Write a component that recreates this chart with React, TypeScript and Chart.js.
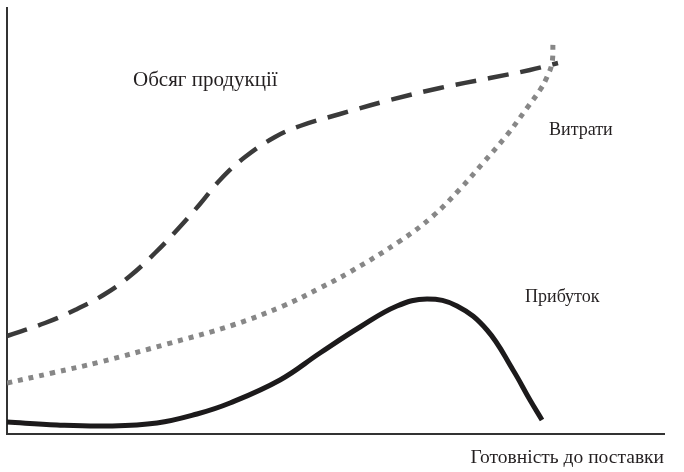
import React, { useEffect, useRef } from "react";
import { Chart, registerables } from "chart.js";

Chart.register(...registerables);

// Обсяг продукції (dashed)
const outputX = [0, 38, 68, 98, 123, 148, 170, 193, 213, 238, 268, 293, 333, 383, 433, 483, 523, 551];
const outputY = [98, 111, 124, 140, 158, 181, 204, 230, 254, 277, 297, 308, 320, 334, 346, 356, 364, 371];

// Витрати (dotted)
const costX = [0, 45, 93, 160, 226, 276, 313, 343, 393, 426, 453, 476, 500, 520, 533, 540, 545, 546];
const costY = [51, 61, 72, 90, 109, 128, 146, 162, 193, 218, 245, 271, 299, 326, 344, 357, 371, 392];

// Прибуток (solid)
const profitX = [0, 50, 100, 150, 190, 223, 273, 313, 353, 390, 420, 450, 480, 506, 523, 535];
const profitY = [12, 9, 8, 11, 20, 31, 54, 81, 107, 128, 135, 128, 104, 64, 34, 14];

// Curve labels, anchored in data units
const labelTexts = ["Обсяг продукції", "Витрати", "Прибуток"];
const labelX = [126, 542, 518];
const labelY = [354, 304, 137];
const labelSizes = [21, 18, 18];

const axisTitle = "Готовність до поставки";

const toPoints = (xs: number[], ys: number[]) => xs.map((x, i) => ({ x, y: ys[i] }));

const FONT = "'Liberation Serif', 'Times New Roman', serif";

const labelPlugin = {
  id: "curveLabels",
  afterDatasetsDraw(chart: any) {
    const { ctx, scales } = chart;
    ctx.save();
    ctx.fillStyle = "#231f20";
    ctx.textAlign = "left";
    ctx.textBaseline = "middle";
    labelTexts.forEach((t, i) => {
      ctx.font = `${labelSizes[i]}px ${FONT}`;
      ctx.fillText(t, scales.x.getPixelForValue(labelX[i]), scales.y.getPixelForValue(labelY[i]));
    });
    ctx.restore();
  },
};

export default function App() {
  const ref = useRef<HTMLCanvasElement | null>(null);
  useEffect(() => {
    document.body.style.margin = "0";
    const canvas = ref.current!;
    const chart = new Chart(canvas, {
      type: "line",
      data: {
        datasets: [
          {
            label: "Обсяг продукції",
            data: toPoints(outputX, outputY),
            borderColor: "#3a3a3a",
            borderWidth: 4.5,
            borderDash: [21, 12],
            borderCapStyle: "butt",
            pointRadius: 0,
            tension: 0.4,
            fill: false,
          },
          {
            label: "Витрати",
            data: toPoints(costX, costY),
            borderColor: "#878787",
            borderWidth: 5,
            borderDash: [5, 6],
            borderCapStyle: "butt",
            pointRadius: 0,
            tension: 0.4,
            fill: false,
          },
          {
            label: "Прибуток",
            data: toPoints(profitX, profitY),
            borderColor: "#1c1a1b",
            borderWidth: 5,
            pointRadius: 0,
            tension: 0.4,
            fill: false,
          },
        ],
      },
      options: {
        animation: false,
        responsive: false,
        layout: { padding: { left: 7, top: 8, right: 20, bottom: 2.6 } },
        plugins: { legend: { display: false }, tooltip: { enabled: false } },
        scales: {
          x: {
            type: "linear",
            min: 0,
            max: 657,
            grid: { display: false, drawTicks: false },
            ticks: { display: false },
            border: { display: true, color: "#333333", width: 2 },
            title: {
              display: true,
              text: axisTitle,
              align: "end",
              color: "#231f20",
              font: { family: FONT, size: 19.5 },
              padding: { top: 12, bottom: 0 },
            },
          },
          y: {
            type: "linear",
            min: 0,
            max: 426,
            grid: { display: false, drawTicks: false },
            ticks: { display: false },
            border: { display: true, color: "#333333", width: 2 },
          },
        },
      },
      plugins: [labelPlugin],
    });
    return () => chart.destroy();
  }, []);
  return (
    <div style={{ width: 684, height: 472, background: "#fff" }}>
      <canvas ref={ref} width={684} height={472} />
    </div>
  );
}
